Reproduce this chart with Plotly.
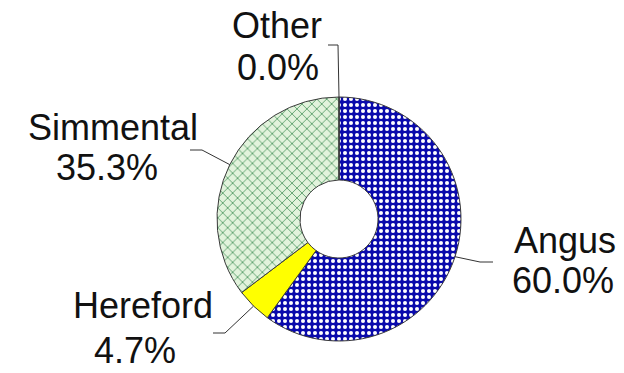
import math
import plotly.graph_objects as go

# Breed shares of the herd
breeds = ["Angus", "Hereford", "Simmental", "Other"]
shares = [60.0, 4.7, 35.3, 0.0]
pct_text = [f"{v:.1f}%" for v in shares]

# Slice fills
fill_bg = ["#0a0aac", "#ffff00", "#e2f3dc", "#ffffff"]
fill_fg = ["#ffffff", "#ffff00", "#3a8a50", "#ffffff"]
fill_shape = [".", "", "x", ""]
fill_size = [6, 6, 7, 6]
fill_solid = [0.36, 0.3, 0.2, 0.3]

W, H = 624, 373
CX, CY, R = 339, 219, 122   # donut centre / outer radius (px)
HOLE = 0.32

# Label layout in px: (x line1, y line1, x line2, y line2)
label_xy = {
    "Angus": (565, 240, 563, 280.5),
    "Hereford": (143, 305.5, 135, 350.5),
    "Simmental": (113, 127.5, 107, 167.5),
    "Other": (277, 25, 277.5, 67.5),
}
# Leader line elbow and end points in px
leader_pts = {
    "Angus": [(480, 262), (493, 262)],
    "Hereford": [(225, 333), (213, 333)],
    "Simmental": [(202, 150), (190, 150)],
    "Other": [(338, 45), (328, 45)],
}


def px(x, y):
    return x / W, 1 - y / H


fig = go.Figure(
    go.Pie(
        labels=breeds,
        values=shares,
        sort=False,
        direction="clockwise",
        rotation=0,
        hole=HOLE,
        textinfo="none",
        showlegend=False,
        domain=dict(
            x=[(CX - R) / W, (CX + R) / W],
            y=[1 - (CY + R) / H, 1 - (CY - R) / H],
        ),
        marker=dict(
            colors=fill_bg,
            line=dict(color="#3a3a3a", width=1),
            pattern=dict(
                shape=fill_shape,
                fgcolor=fill_fg,
                bgcolor=fill_bg,
                size=fill_size,
                solidity=fill_solid,
                fillmode="replace",
            ),
        ),
    )
)

total = sum(shares)
cum = 0.0
shapes = []
annotations = []
font = dict(family="Liberation Sans, Arial, sans-serif", size=36, color="#111111")
for name, v, pt in zip(breeds, shares, pct_text):
    mid = (cum + v / 2) / total
    cum += v
    theta = 2 * math.pi * mid
    sx = CX + R * math.sin(theta)
    sy = CY - R * math.cos(theta)
    pts = [(sx, sy)] + leader_pts[name]
    for (x0, y0), (x1, y1) in zip(pts[:-1], pts[1:]):
        a0, b0 = px(x0, y0)
        a1, b1 = px(x1, y1)
        shapes.append(dict(type="line", xref="paper", yref="paper",
                           x0=a0, y0=b0, x1=a1, y1=b1,
                           line=dict(color="#333333", width=1)))
    x1l, y1l, x2l, y2l = label_xy[name]
    for tx, ty, txt in [(x1l, y1l, name), (x2l, y2l, pt)]:
        ax, ay = px(tx, ty)
        annotations.append(dict(text=txt, x=ax, y=ay, xref="paper", yref="paper",
                                xanchor="center", yanchor="middle",
                                showarrow=False, font=font))

fig.update_layout(
    width=W,
    height=H,
    margin=dict(l=0, r=0, t=0, b=0),
    paper_bgcolor="white",
    plot_bgcolor="white",
    shapes=shapes,
    annotations=annotations,
)

fig.write_html("out.html")
